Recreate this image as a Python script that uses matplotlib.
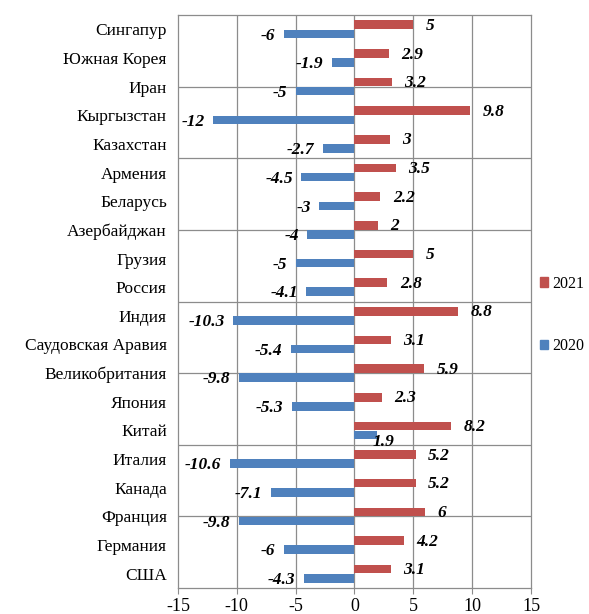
import matplotlib
matplotlib.use("Agg")
import matplotlib.pyplot as plt
import numpy as np
from matplotlib.patches import Patch

countries = ["Сингапур", "Южная Корея", "Иран", "Кыргызстан", "Казахстан",
             "Армения", "Беларусь", "Азербайджан", "Грузия", "Россия",
             "Индия", "Саудовская Аравия", "Великобритания", "Япония", "Китай",
             "Италия", "Канада", "Франция", "Германия", "США"]
v2021 = [5, 2.9, 3.2, 9.8, 3, 3.5, 2.2, 2, 5, 2.8, 8.8, 3.1, 5.9, 2.3, 8.2,
         5.2, 5.2, 6, 4.2, 3.1]
v2020 = [-6, -1.9, -5, -12, -2.7, -4.5, -3, -4, -5, -4.1, -10.3, -5.4, -9.8,
         -5.3, 1.9, -10.6, -7.1, -9.8, -6, -4.3]
labels2021 = ["5", "2.9", "3.2", "9.8", "3", "3.5", "2.2", "2", "5", "2.8",
              "8.8", "3.1", "5.9", "2.3", "8.2", "5.2", "5.2", "6", "4.2", "3.1"]
labels2020 = ["-6", "-1.9", "-5", "-12", "-2.7", "-4.5", "-3", "-4", "-5", "-4.1",
              "-10.3", "-5.4", "-9.8", "-5.3", "1.9", "-10.6", "-7.1", "-9.8", "-6", "-4.3"]
xticks = [-15, -10, -5, 0, 5, 10, 15]

RED = "#C0504D"
BLUE = "#4F81BD"
GRID = "#8C8C8C"
SERIF = "Liberation Serif"

fig = plt.figure(figsize=(5.89, 6.14), dpi=100)
ax = fig.add_axes([0.302, 0.0423, 0.5995, 0.9333])

y = np.arange(len(countries))
h = 0.3
ax.barh(y - 0.16, v2021, height=h, color=RED, zorder=3, label="2021")
ax.barh(y + 0.16, v2020, height=h, color=BLUE, zorder=3, label="2020")

ax.set_xlim(-15, 15)
ax.set_ylim(len(countries) - 0.5, -0.5)
ax.set_xticks(xticks)
ax.set_xticklabels([str(t) for t in xticks], family=SERIF, fontsize=13)
ax.set_yticks(y)
ax.set_yticklabels(countries, family=SERIF, fontsize=12.5)
ax.tick_params(axis="y", length=0, pad=8)
ax.tick_params(axis="x", length=4, color=GRID, pad=3)

for xv in xticks[1:-1]:
    ax.axvline(xv, color=GRID, lw=0.9, zorder=1)
for k in range(1, 8):
    ax.axhline(-0.5 + 2.5 * k, color=GRID, lw=0.9, zorder=1)
for s in ax.spines.values():
    s.set_color(GRID)
    s.set_linewidth(0.9)

FS = 12.5
for i in range(len(countries)):
    ax.annotate(labels2021[i], (v2021[i], y[i] - 0.12), xytext=(9, 0),
                textcoords="offset points", ha="left", va="center",
                family=SERIF, fontsize=FS, fontweight="bold", style="italic",
                zorder=5)
    if v2020[i] < 0:
        ax.annotate(labels2020[i], (v2020[i], y[i] + 0.22), xytext=(-6, 0),
                    textcoords="offset points", ha="right", va="center",
                    family=SERIF, fontsize=FS, fontweight="bold", style="italic",
                    zorder=5)
    else:
        ax.annotate(labels2020[i], (v2020[i], y[i] + 0.3), xytext=(-3, -2),
                    textcoords="offset points", ha="left", va="center",
                    family=SERIF, fontsize=FS, fontweight="bold", style="italic",
                    zorder=5)

handles = [Patch(color=RED, label="2021"), Patch(color=BLUE, label="2020")]
fig.legend(handles=handles, loc="center left", bbox_to_anchor=(0.916, 0.487),
           frameon=False, handlelength=0.55, handleheight=0.55, handletextpad=0.25,
           borderaxespad=0, borderpad=0, labelspacing=2.9,
           prop={"family": SERIF, "size": 11.5})

fig.savefig("out.png", dpi=100)
